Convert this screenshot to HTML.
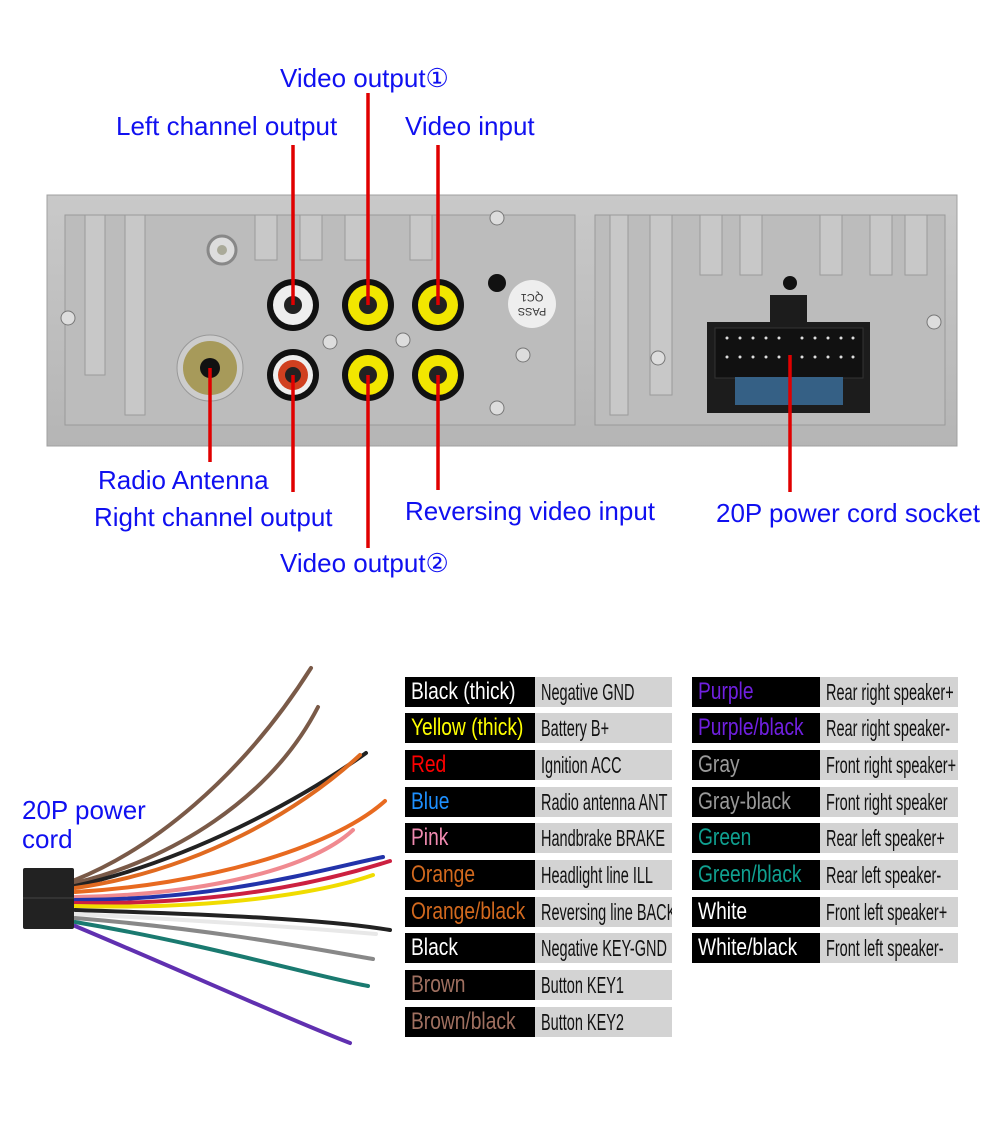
<!DOCTYPE html>
<html><head><meta charset="utf-8"><style>
body{margin:0;width:1001px;height:1144px;background:#fff;position:relative;overflow:hidden;font-family:"Liberation Sans",sans-serif}
.l{position:absolute;color:#1010f0;font-size:26px;white-space:nowrap;line-height:1}
.r{position:absolute;height:30px;line-height:30px;white-space:nowrap;overflow:hidden}
.r span{display:inline-block;transform-origin:0 50%}
.k{background:#000;padding-left:6px;box-sizing:border-box;font-size:24px}
.k span{transform:scaleX(0.8)}
.g{background:#d3d3d3;color:#111;padding-left:6px;box-sizing:border-box;font-size:23px}
.g span{transform:scaleX(0.63)}
</style></head><body>
<svg width="1001" height="1144" style="position:absolute;left:0;top:0">
<defs>
<linearGradient id="pg" x1="0" y1="0" x2="0" y2="1"><stop offset="0" stop-color="#c9c9c9"/><stop offset="1" stop-color="#b5b5b5"/></linearGradient>
</defs>
<rect x="47" y="195" width="910" height="251" fill="url(#pg)" stroke="#a0a0a0"/>
<rect x="65" y="215" width="510" height="210" fill="#bcbcbc" stroke="#9a9a9a"/>
<rect x="595" y="215" width="350" height="210" fill="#bcbcbc" stroke="#9a9a9a"/>
<g fill="#c8c8c8" stroke="#9a9a9a">
<rect x="85" y="215" width="20" height="160"/><rect x="125" y="215" width="20" height="200"/>
<rect x="255" y="215" width="22" height="45"/><rect x="300" y="215" width="22" height="45"/><rect x="345" y="215" width="22" height="45"/><rect x="410" y="215" width="22" height="45"/>
<rect x="610" y="215" width="18" height="200"/><rect x="650" y="215" width="22" height="180"/>
<rect x="700" y="215" width="22" height="60"/><rect x="740" y="215" width="22" height="60"/><rect x="820" y="215" width="22" height="60"/><rect x="870" y="215" width="22" height="60"/><rect x="905" y="215" width="22" height="60"/>
</g>
<circle cx="222" cy="250" r="14" fill="#ddd" stroke="#888" stroke-width="3"/><circle cx="222" cy="250" r="5" fill="#aa9"/>
<circle cx="210" cy="368" r="33" fill="#ccc" stroke="#999"/><circle cx="210" cy="368" r="27" fill="#a79a5a"/><circle cx="210" cy="368" r="10" fill="#111"/>
<g>
<circle cx="293" cy="305" r="26" fill="#111"/><circle cx="293" cy="305" r="20" fill="#eee"/><circle cx="293" cy="305" r="9" fill="#222"/>
<circle cx="368" cy="305" r="26" fill="#111"/><circle cx="368" cy="305" r="20" fill="#f2e600"/><circle cx="368" cy="305" r="9" fill="#222"/>
<circle cx="438" cy="305" r="26" fill="#111"/><circle cx="438" cy="305" r="20" fill="#f2e600"/><circle cx="438" cy="305" r="9" fill="#222"/>
<circle cx="293" cy="375" r="26" fill="#111"/><circle cx="293" cy="375" r="20" fill="#eee"/><circle cx="293" cy="375" r="15" fill="#d04020"/><circle cx="293" cy="375" r="8" fill="#222"/>
<circle cx="368" cy="375" r="26" fill="#111"/><circle cx="368" cy="375" r="20" fill="#f2e600"/><circle cx="368" cy="375" r="9" fill="#222"/>
<circle cx="438" cy="375" r="26" fill="#111"/><circle cx="438" cy="375" r="20" fill="#f2e600"/><circle cx="438" cy="375" r="9" fill="#222"/>
</g>
<g fill="#ddd" stroke="#777"><circle cx="330" cy="342" r="7"/><circle cx="403" cy="340" r="7"/><circle cx="497" cy="218" r="7"/><circle cx="523" cy="355" r="7"/><circle cx="497" cy="408" r="7"/><circle cx="68" cy="318" r="7"/><circle cx="934" cy="322" r="7"/><circle cx="658" cy="358" r="7"/></g>
<circle cx="497" cy="283" r="9" fill="#111"/><circle cx="790" cy="283" r="7" fill="#111"/>
<circle cx="532" cy="304" r="24" fill="#eee"/><text x="532" y="300" font-size="11" text-anchor="middle" fill="#333" transform="rotate(180 532 304)">PASS</text><text x="532" y="314" font-size="11" text-anchor="middle" fill="#333" transform="rotate(180 532 304)">QC1</text>
<rect x="770" y="295" width="37" height="30" fill="#1c1c1c"/>
<rect x="707" y="322" width="163" height="91" fill="#1c1c1c"/>
<rect x="715" y="328" width="148" height="50" fill="#111" stroke="#333"/>
<g fill="#ddd"><circle cx="727" cy="338" r="1.5"/><circle cx="740" cy="338" r="1.5"/><circle cx="753" cy="338" r="1.5"/><circle cx="766" cy="338" r="1.5"/><circle cx="779" cy="338" r="1.5"/><circle cx="802" cy="338" r="1.5"/><circle cx="815" cy="338" r="1.5"/><circle cx="828" cy="338" r="1.5"/><circle cx="841" cy="338" r="1.5"/><circle cx="853" cy="338" r="1.5"/>
<circle cx="727" cy="357" r="1.5"/><circle cx="740" cy="357" r="1.5"/><circle cx="753" cy="357" r="1.5"/><circle cx="766" cy="357" r="1.5"/><circle cx="779" cy="357" r="1.5"/><circle cx="802" cy="357" r="1.5"/><circle cx="815" cy="357" r="1.5"/><circle cx="828" cy="357" r="1.5"/><circle cx="841" cy="357" r="1.5"/><circle cx="853" cy="357" r="1.5"/></g>
<rect x="735" y="377" width="108" height="28" fill="#3a6c98" opacity="0.85"/>
<g stroke="#e00000" stroke-width="3.5">
<line x1="293" y1="145" x2="293" y2="305"/><line x1="368" y1="93" x2="368" y2="305"/><line x1="438" y1="145" x2="438" y2="305"/>
<line x1="210" y1="368" x2="210" y2="462"/><line x1="293" y1="375" x2="293" y2="492"/><line x1="368" y1="375" x2="368" y2="548"/><line x1="438" y1="375" x2="438" y2="490"/><line x1="790" y1="355" x2="790" y2="492"/>
</g>
<g fill="none" stroke-width="4" stroke-linecap="round">
<path d="M75 880 C150 850 240 780 311 668" stroke="#7a5a48"/>
<path d="M75 883 C170 860 270 800 318 707" stroke="#7a5a48"/>
<path d="M75 886 C190 860 300 800 366 753" stroke="#222"/>
<path d="M75 888 C200 870 300 810 360 755" stroke="#e06a20"/>
<path d="M75 892 C200 885 330 850 385 801" stroke="#e86a20"/>
<path d="M75 897 C200 895 310 870 353 830" stroke="#f08a90"/>
<path d="M75 900 C220 900 320 870 383 857" stroke="#2233aa"/>
<path d="M75 903 C230 905 330 880 390 861" stroke="#cc2040"/>
<path d="M75 906 C230 910 330 890 373 875" stroke="#f0dc00"/>
<path d="M75 910 C230 915 330 920 390 930" stroke="#222"/>
<path d="M75 914 C230 922 330 930 376 934" stroke="#e8e8e8"/>
<path d="M75 918 C220 930 320 950 373 959" stroke="#888"/>
<path d="M75 922 C210 945 310 975 368 986" stroke="#1a7a70"/>
<path d="M75 926 C180 970 290 1020 350 1043" stroke="#6030b0"/>
</g>
<rect x="23" y="868" width="51" height="61" fill="#222" rx="2"/>
<line x1="23" y1="898" x2="74" y2="898" stroke="#444"/>
</svg>
<div class="l" style="left:280px;top:65px">Video output①</div>
<div class="l" style="left:116px;top:113px">Left channel output</div>
<div class="l" style="left:405px;top:113px">Video input</div>
<div class="l" style="left:98px;top:467px">Radio Antenna</div>
<div class="l" style="left:94px;top:504px">Right channel output</div>
<div class="l" style="left:405px;top:498px">Reversing video input</div>
<div class="l" style="left:280px;top:550px">Video output②</div>
<div class="l" style="left:716px;top:500px">20P power cord socket</div>
<div class="l" style="left:22px;top:796px;line-height:29px">20P power<br>cord</div>

<div class="r k" style="left:405px;top:677px;width:130px;color:#fff"><span>Black (thick)</span></div><div class="r g" style="left:535px;top:677px;width:137px"><span>Negative GND</span></div>
<div class="r k" style="left:405px;top:713px;width:130px;color:#ff0"><span>Yellow (thick)</span></div><div class="r g" style="left:535px;top:713px;width:137px"><span>Battery B+</span></div>
<div class="r k" style="left:405px;top:750px;width:130px;color:#f00"><span>Red</span></div><div class="r g" style="left:535px;top:750px;width:137px"><span>Ignition ACC</span></div>
<div class="r k" style="left:405px;top:787px;width:130px;color:#1e90ff"><span>Blue</span></div><div class="r g" style="left:535px;top:787px;width:137px"><span>Radio antenna ANT</span></div>
<div class="r k" style="left:405px;top:823px;width:130px;color:#f08ab0"><span>Pink</span></div><div class="r g" style="left:535px;top:823px;width:137px"><span>Handbrake BRAKE</span></div>
<div class="r k" style="left:405px;top:860px;width:130px;color:#d2691e"><span>Orange</span></div><div class="r g" style="left:535px;top:860px;width:137px"><span>Headlight line ILL</span></div>
<div class="r k" style="left:405px;top:897px;width:130px;color:#d2691e"><span>Orange/black</span></div><div class="r g" style="left:535px;top:897px;width:137px"><span>Reversing line BACK</span></div>
<div class="r k" style="left:405px;top:933px;width:130px;color:#fff"><span>Black</span></div><div class="r g" style="left:535px;top:933px;width:137px"><span>Negative KEY-GND</span></div>
<div class="r k" style="left:405px;top:970px;width:130px;color:#a07060"><span>Brown</span></div><div class="r g" style="left:535px;top:970px;width:137px"><span>Button KEY1</span></div>
<div class="r k" style="left:405px;top:1007px;width:130px;color:#a07060"><span>Brown/black</span></div><div class="r g" style="left:535px;top:1007px;width:137px"><span>Button KEY2</span></div>

<div class="r k" style="left:692px;top:677px;width:128px;color:#7020e0"><span>Purple</span></div><div class="r g" style="left:820px;top:677px;width:138px"><span>Rear right speaker+</span></div>
<div class="r k" style="left:692px;top:713px;width:128px;color:#7020e0"><span>Purple/black</span></div><div class="r g" style="left:820px;top:713px;width:138px"><span>Rear right speaker-</span></div>
<div class="r k" style="left:692px;top:750px;width:128px;color:#999"><span>Gray</span></div><div class="r g" style="left:820px;top:750px;width:138px"><span>Front right speaker+</span></div>
<div class="r k" style="left:692px;top:787px;width:128px;color:#999"><span>Gray-black</span></div><div class="r g" style="left:820px;top:787px;width:138px"><span>Front right speaker</span></div>
<div class="r k" style="left:692px;top:823px;width:128px;color:#10a090"><span>Green</span></div><div class="r g" style="left:820px;top:823px;width:138px"><span>Rear left speaker+</span></div>
<div class="r k" style="left:692px;top:860px;width:128px;color:#10a090"><span>Green/black</span></div><div class="r g" style="left:820px;top:860px;width:138px"><span>Rear left speaker-</span></div>
<div class="r k" style="left:692px;top:897px;width:128px;color:#fff"><span>White</span></div><div class="r g" style="left:820px;top:897px;width:138px"><span>Front left speaker+</span></div>
<div class="r k" style="left:692px;top:933px;width:128px;color:#fff"><span>White/black</span></div><div class="r g" style="left:820px;top:933px;width:138px"><span>Front left speaker-</span></div>
</body></html>
